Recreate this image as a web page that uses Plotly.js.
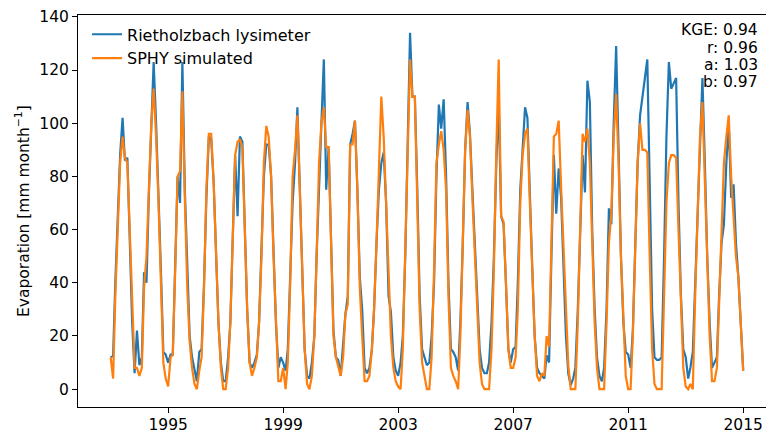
<!DOCTYPE html>
<html><head><meta charset="utf-8">
<script src="https://cdn.plot.ly/plotly-3.0.1.min.js"></script>
<style>html,body{margin:0;padding:0;overflow:hidden;background:#fff;width:766px;height:433px}</style>
</head><body><div id="chart"></div>
<script>
// Monthly values, Jan 1993 .. Jan 2015
const startYear = 1993;
const lysimeter = [
  12, 12.5, 40, 62, 88, 102, 86, 87, 55, 25, 6, 22,
  9, 12, 44, 40, 73, 101, 123, 100, 75, 45, 14, 13,
  10, 13, 13, 45, 80, 70, 123, 75, 42, 20, 12, 7,
  3, 14, 15, 40, 72, 95, 94, 78, 48, 25, 10, 3,
  3, 12, 25, 55, 88, 65, 95, 93, 60, 30, 10, 8,
  10, 13, 25, 50, 80, 92, 92, 80, 50, 25, 8, 12,
  10, 7, 15, 40, 70, 85, 106, 75, 40, 15, 5, 4,
  10, 20, 50, 80, 100, 124, 75, 91, 55, 22, 12, 11,
  5, 18, 28, 35, 92, 96, 101, 75, 42, 30, 8, 6,
  8, 15, 30, 55, 75, 85, 89, 70, 35, 29, 12, 7,
  5, 10, 20, 50, 90, 134, 110, 110, 75, 35, 15, 12,
  9, 10, 20, 40, 80, 107, 98, 109, 80, 40, 15, 14,
  12, 7, 25, 55, 90, 108, 96, 75, 55, 35, 15, 8,
  6, 6, 10, 25, 50, 85, 108, 65, 62, 40, 15, 10,
  15, 16, 40, 75, 90, 106, 102, 70, 45, 20, 8, 6,
  5, 4, 12.7, 10, 50, 88, 66, 83, 72, 45, 20, 6,
  1.5, 4, 8, 30, 60, 88, 74, 116, 108, 60, 30, 12,
  5, 3, 8, 30, 68, 62, 100, 129, 90, 50, 25, 14,
  13, 8, 22, 50, 85, 103, 109, 117, 124, 70, 30, 12,
  11, 11, 12, 50, 95, 123, 113, 115, 117, 70, 35, 15,
  12, 4, 8, 14, 40, 70, 95, 117, 85, 50, 25, 8,
  10, 12, 35, 55, 62, 85, 100, 72, 77, 55, 42, 25,
  7
];
const sphy = [
  12, 4, 35, 60, 85, 95, 87, 85, 58, 28, 8, 8,
  5, 8, 38, 50, 75, 100, 113, 95, 70, 40, 10, 4,
  1, 12, 13, 45, 80, 82, 112, 72, 38, 18, 8, 2,
  0, 7, 12, 38, 75, 96, 96, 78, 50, 25, 8, 0,
  0, 8, 25, 55, 88, 93, 94, 91, 60, 30, 10, 5,
  8, 12, 25, 50, 85, 99, 95, 80, 50, 25, 3, 3,
  8, 0, 10, 40, 80, 90, 103, 75, 40, 15, 2, 0,
  5, 20, 50, 85, 100, 106, 91, 91, 55, 20, 12, 8,
  5, 12, 28, 32, 92, 92, 101, 75, 38, 20, 3, 3,
  5, 15, 30, 55, 85, 110, 95, 70, 40, 20, 8, 3,
  1, 0, 15, 50, 85, 124, 110, 110, 70, 30, 10, 5,
  0, 0, 12, 45, 85, 92, 97, 90, 75, 35, 8, 5,
  3, 0, 20, 55, 90, 105, 95, 72, 50, 30, 10, 2,
  0, 0, 0, 15, 45, 90, 124, 65, 63, 40, 15, 8,
  8, 12, 30, 70, 88, 96, 98, 70, 45, 20, 5, 3,
  6, 5, 20, 16, 55, 95, 96, 101, 76, 53, 28, 9,
  0, 0, 0, 25, 65, 96, 93, 98, 85, 55, 25, 8,
  0, 0, 0, 25, 55, 66, 95, 111, 85, 50, 25, 5,
  0, 0, 20, 55, 85, 100, 90, 90, 89, 50, 15, 2,
  0, 0, 0, 35, 70, 85, 88, 88, 87, 60, 30, 8,
  1, 0, 2, 0, 35, 70, 95, 108, 80, 50, 20, 3,
  3, 8, 35, 65, 85, 95, 103, 80, 65, 50, 42, 25,
  7
];
const seriesNames = ['Rietholzbach lysimeter', 'SPHY simulated'];
const xTickYears = [1995, 1999, 2003, 2007, 2011, 2015];
const yTicks = [0, 20, 40, 60, 80, 100, 120, 140];
const yTitle = 'Evaporation [mm month<sup>−1</sup>]';
const statLines = ['KGE: 0.94', 'r: 0.96', 'a: 1.03', 'b: 0.97'];

const dates = lysimeter.map((_, i) => {
  const y = startYear + Math.floor(i / 12);
  const m = (i % 12) + 1;
  return y + '-' + String(m).padStart(2, '0') + '-01';
});

const font = {family: 'DejaVu Sans', size: 15.5, color: '#000'};
const legendFont = {family: 'DejaVu Sans', size: 16, color: '#000'};
const traces = [
  {x: dates, y: lysimeter, name: seriesNames[0], type: 'scatter', mode: 'lines',
   line: {color: '#1f77b4', width: 2.2}},
  {x: dates, y: sphy, name: seriesNames[1], type: 'scatter', mode: 'lines',
   line: {color: '#ff7f0e', width: 2.2}}
];

const statY = [30, 48, 65, 82];
const annotations = statLines.map((t, i) => ({
  text: t, xref: 'paper', yref: 'paper', x: 0.9785, y: (407 - statY[i]) / 392,
  xanchor: 'right', yanchor: 'middle', showarrow: false, font: font
}));
annotations.push({
  text: yTitle, xref: 'paper', yref: 'paper', x: (22 - 78) / 697, y: 0.5,
  xanchor: 'center', yanchor: 'middle', textangle: -90, showarrow: false, font: font
});

const layout = {
  width: 780, height: 433,
  margin: {l: 78, r: 5, t: 15, b: 26},
  paper_bgcolor: '#fff', plot_bgcolor: '#fff',
  font: font,
  showlegend: true,
  legend: {x: 0.013, y: 0.994, xanchor: 'left', yanchor: 'top', bgcolor: 'rgba(0,0,0,0)', font: legendFont},
  xaxis: {
    type: 'date', range: ['1991-11-13', '2016-02-09'],
    tickvals: xTickYears.map(y => y + '-01-01'), ticktext: xTickYears.map(String),
    ticks: 'outside', ticklen: 5, tickwidth: 1, tickcolor: '#000', ticklabelstandoff: -2,
    showline: true, linecolor: '#000', linewidth: 1, mirror: true,
    showgrid: false, zeroline: false, tickfont: font, automargin: false
  },
  yaxis: {
    range: [-6.7, 140.7], tickvals: yTicks,
    ticks: 'outside', ticklen: 5, tickwidth: 1, tickcolor: '#000',
    showline: true, linecolor: '#000', linewidth: 1, mirror: true,
    showgrid: false, zeroline: false, tickfont: font, automargin: false
  },
  annotations: annotations
};

Plotly.newPlot('chart', traces, layout, {displayModeBar: false, staticPlot: true});
</script>
</body></html>
